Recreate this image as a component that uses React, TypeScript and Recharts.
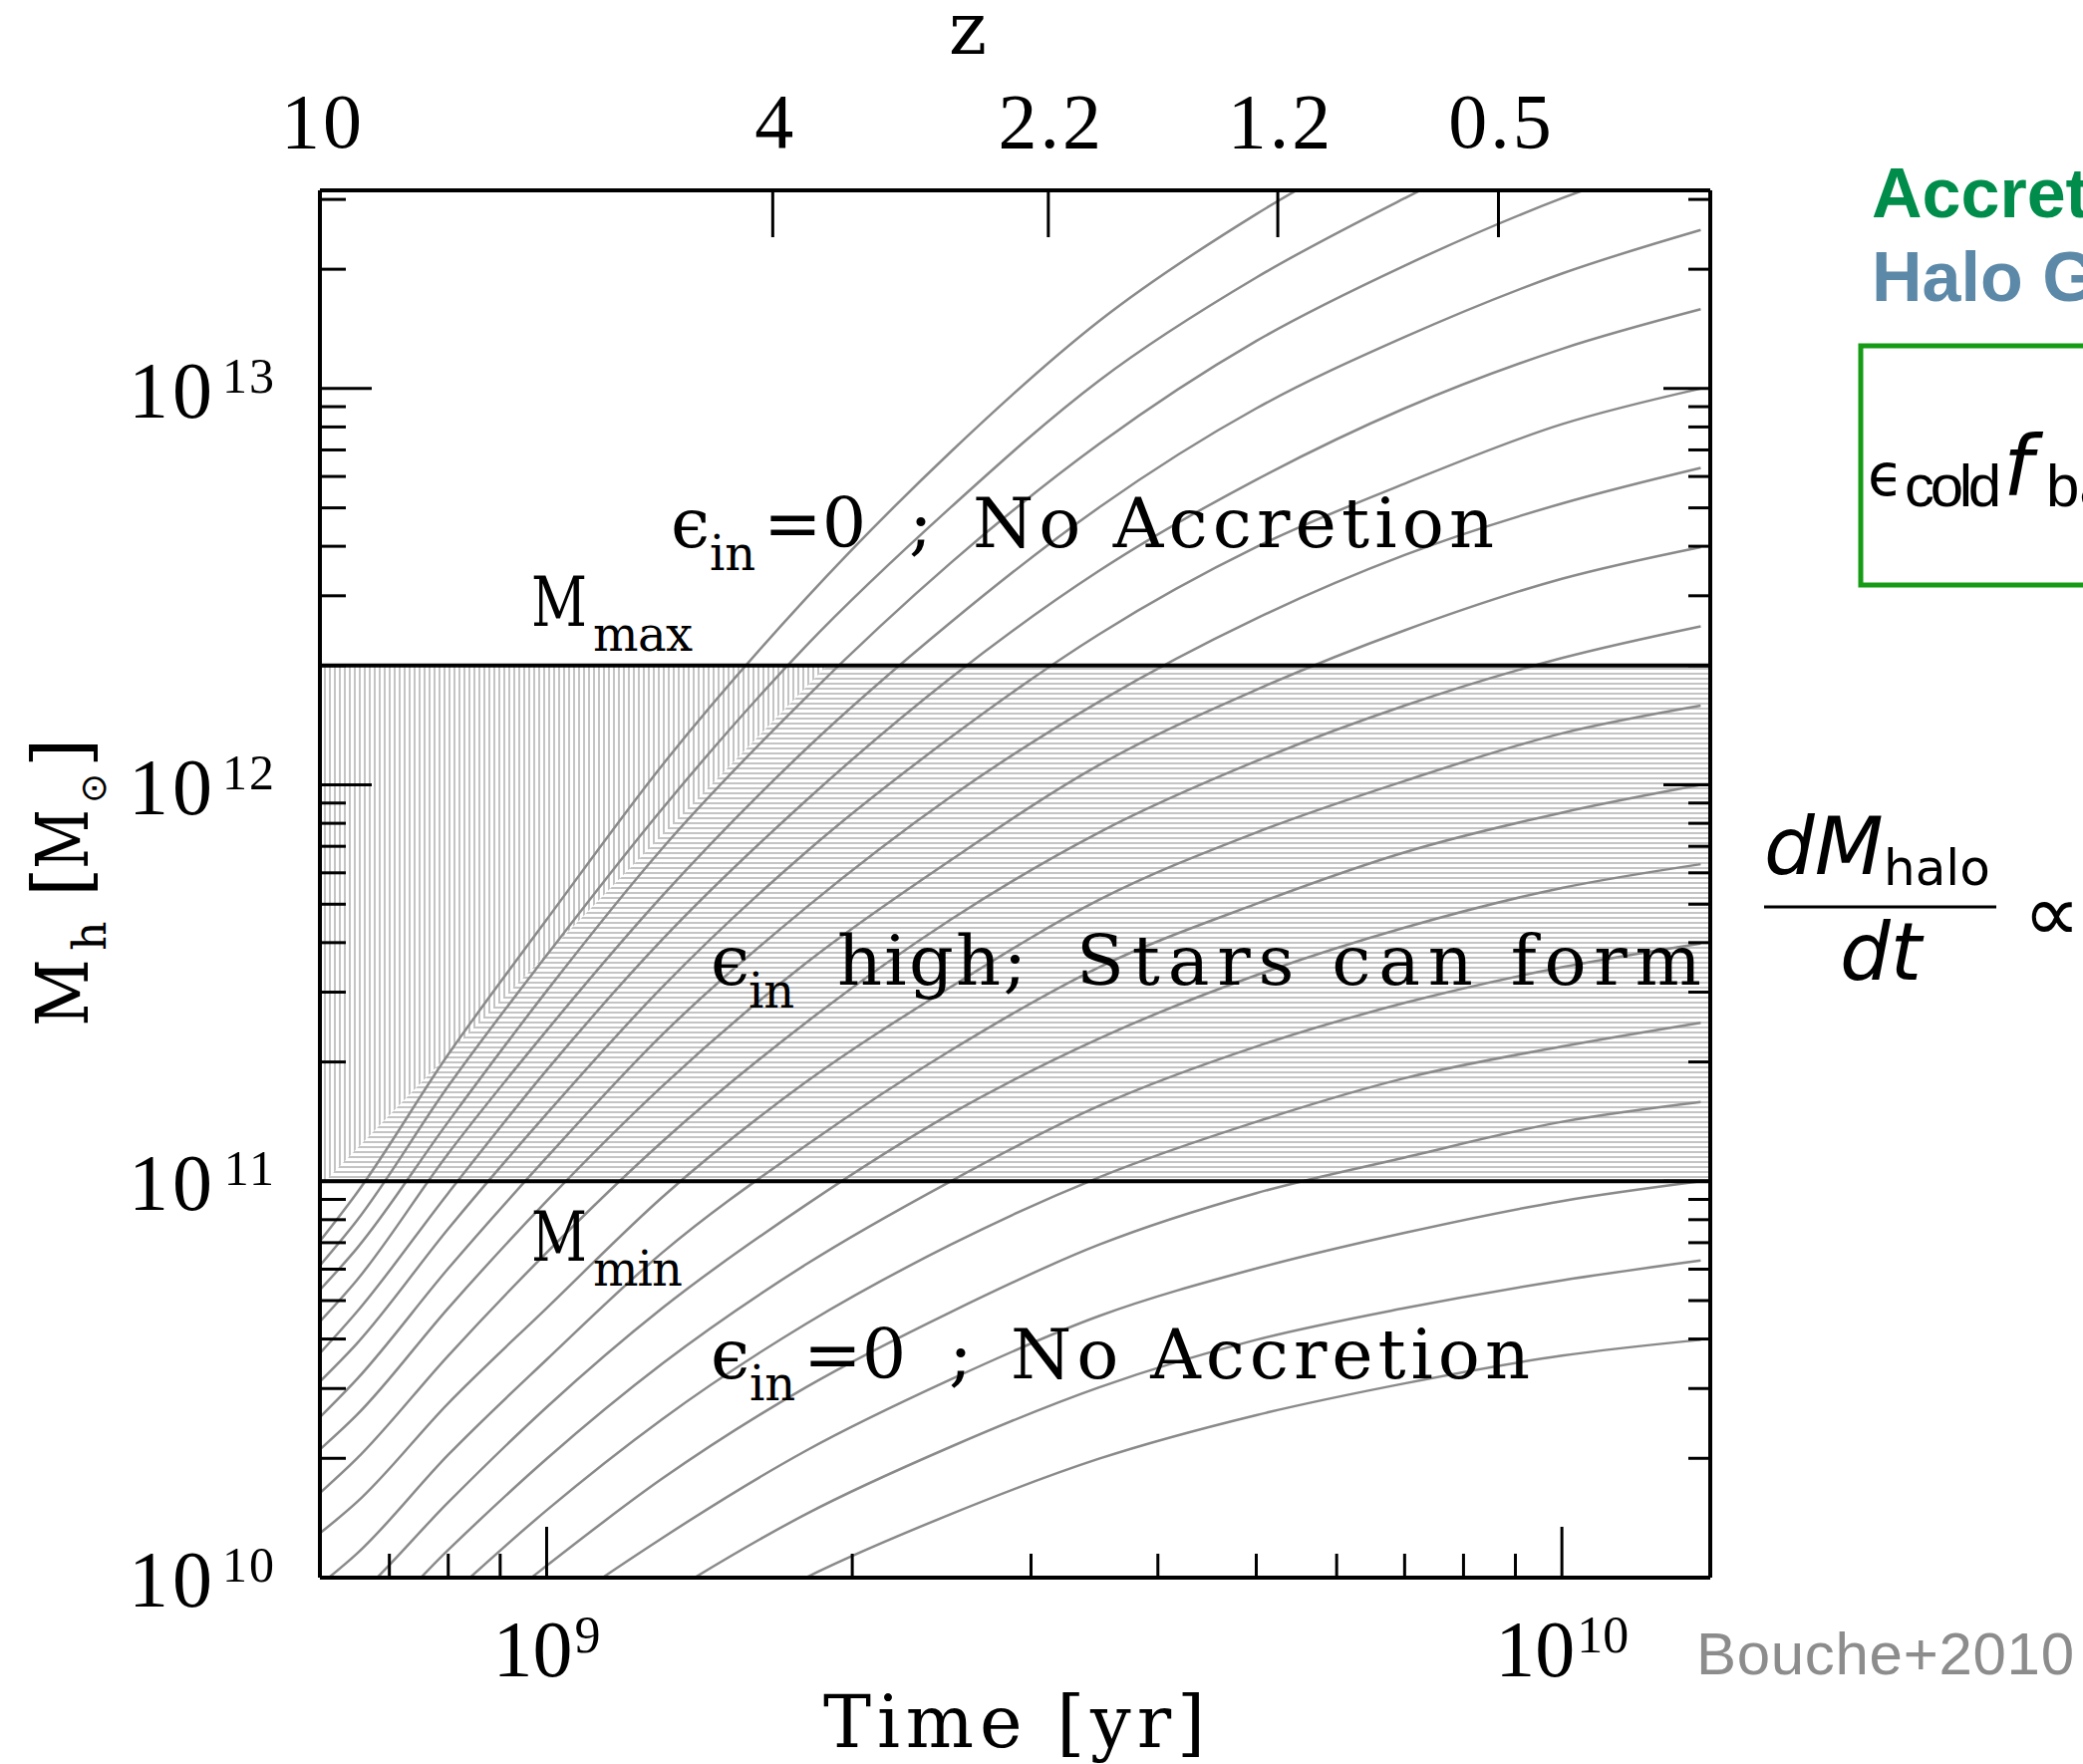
import React from 'react';
import {
  ComposedChart,
  Line,
  Area,
  XAxis,
  YAxis,
  ReferenceArea,
  ReferenceLine,
} from 'recharts';

const W = 2090;
const H = 1770;

// time axis [yr]
const T_MIN = 5.98e8;
const T_MAX = 1.4e10;
const T_MAJOR = [1e9, 1e10];
const T_MAJOR_EXP = ['9', '10'];
const T_MINOR = [7e8, 8e8, 9e8, 2e9, 3e9, 4e9, 5e9, 6e9, 7e9, 8e9, 9e9];

// redshift scale on top, placed at the matching cosmic time
const Z_LABELS = ['10', '4', '2.2', '1.2', '0.5'];
const Z_TIMES = [5.98e8, 1.67e9, 3.12e9, 5.25e9, 8.66e9];

// halo mass axis [Msun]
const M_LO = 1e10;
const M_HI = 3.1623e13;
const M_MAJOR = [1e10, 1e11, 1e12, 1e13];
const M_MAJOR_EXP = ['10', '11', '12', '13'];
const M_MINOR = [
  2e10, 3e10, 4e10, 5e10, 6e10, 7e10, 8e10, 9e10,
  2e11, 3e11, 4e11, 5e11, 6e11, 7e11, 8e11, 9e11,
  2e12, 3e12, 4e12, 5e12, 6e12, 7e12, 8e12, 9e12,
  2e13, 3e13,
];

// accretion window
const M_MIN = 1e11;
const M_MAX = 2e12;
// where the shading turns from vertical to horizontal hatching
const HATCH_TURN_LOW = 6.05e8;
const HATCH_TURN_HIGH = 1.89e9;

// halo growth tracks: log10 M_h at these times [Gyr]
const TRACK_TIME_GYR = [0.59, 0.65, 0.8, 1.0, 1.3, 1.8, 2.5, 3.5, 5, 7, 10, 13.7];
const LOGM_140 = [10.83, 10.97, 11.32, 11.66, 12.05, 12.47, 12.84, 13.17, 13.44, 13.65, 13.85, 14.0];
const LOGM_138 = [10.77, 10.9, 11.24, 11.57, 11.94, 12.35, 12.7, 13.02, 13.28, 13.48, 13.67, 13.8];
const LOGM_136 = [10.71, 10.83, 11.15, 11.48, 11.84, 12.22, 12.56, 12.86, 13.12, 13.31, 13.48, 13.6];
const LOGM_134 = [10.63, 10.75, 11.07, 11.38, 11.72, 12.09, 12.41, 12.7, 12.95, 13.13, 13.29, 13.4];
const LOGM_132 = [10.55, 10.67, 10.97, 11.28, 11.61, 11.96, 12.27, 12.54, 12.77, 12.95, 13.1, 13.2];
const LOGM_130 = [10.48, 10.59, 10.88, 11.17, 11.49, 11.83, 12.12, 12.38, 12.6, 12.76, 12.91, 13.0];
const LOGM_128 = [10.39, 10.5, 10.78, 11.06, 11.37, 11.69, 11.97, 12.21, 12.42, 12.58, 12.71, 12.8];
const LOGM_126 = [10.31, 10.41, 10.68, 10.95, 11.24, 11.55, 11.81, 12.05, 12.24, 12.39, 12.52, 12.6];
const LOGM_124 = [10.2, 10.3, 10.56, 10.82, 11.1, 11.4, 11.66, 11.88, 12.06, 12.2, 12.32, 12.4];
const LOGM_122 = [10.1, 10.19, 10.44, 10.68, 10.96, 11.25, 11.49, 11.71, 11.88, 12.01, 12.13, 12.2];
const LOGM_120 = [9.97, 10.06, 10.31, 10.55, 10.82, 11.09, 11.33, 11.54, 11.7, 11.83, 11.93, 12.0];
const LOGM_118 = [9.86, 9.95, 10.19, 10.43, 10.68, 10.94, 11.17, 11.36, 11.52, 11.64, 11.74, 11.8];
const LOGM_116 = [9.76, 9.84, 10.07, 10.3, 10.54, 10.79, 11.0, 11.19, 11.34, 11.45, 11.54, 11.6];
const LOGM_114 = [9.65, 9.73, 9.95, 10.17, 10.4, 10.64, 10.84, 11.01, 11.15, 11.26, 11.34, 11.4];
const LOGM_112 = [9.54, 9.62, 9.83, 10.03, 10.25, 10.48, 10.67, 10.84, 10.97, 11.06, 11.15, 11.2];
const LOGM_110 = [9.43, 9.5, 9.7, 9.9, 10.1, 10.32, 10.5, 10.66, 10.78, 10.87, 10.95, 11.0];
const LOGM_108 = [9.31, 9.38, 9.57, 9.76, 9.95, 10.16, 10.33, 10.48, 10.6, 10.68, 10.75, 10.8];
const LOGM_106 = [9.18, 9.25, 9.44, 9.61, 9.8, 10.0, 10.16, 10.3, 10.41, 10.49, 10.56, 10.6];

const TRACKS = [
  LOGM_140, LOGM_138, LOGM_136, LOGM_134, LOGM_132, LOGM_130, LOGM_128, LOGM_126, LOGM_124,
  LOGM_122, LOGM_120, LOGM_118, LOGM_116, LOGM_114, LOGM_112, LOGM_110, LOGM_108, LOGM_106,
];

const trackData = TRACKS.map((logm) =>
  logm.map((lm, i) => ({ t: TRACK_TIME_GYR[i] * 1e9, m: Math.pow(10, lm) }))
);

// left part of the window that is hatched vertically
const vHatch = [
  { t: T_MIN, band: [M_MIN, M_MAX] },
  { t: HATCH_TURN_LOW, band: [M_MIN, M_MAX] },
  { t: HATCH_TURN_HIGH, band: [M_MAX, M_MAX] },
];

const TICK_W = 3;
const serifNum = 'Liberation Serif';

const BottomTick = (props: any) => {
  const { x, y, payload } = props;
  const i = T_MAJOR.indexOf(payload.value);
  const major = i >= 0;
  const supW = major ? T_MAJOR_EXP[i].length * 26 : 0;
  const x0 = x - (82 + supW) / 2;
  return (
    <g>
      <line x1={x} x2={x} y1={y} y2={y - (major ? 51 : 24)} stroke="#000" strokeWidth={TICK_W} />
      {major && (
        <g fontFamily={serifNum} fill="#000">
          <text x={x0} y={y + 99} fontSize={80}>10</text>
          <text x={x0 + 82} y={y + 75} fontSize={52}>{T_MAJOR_EXP[i]}</text>
        </g>
      )}
    </g>
  );
};

const TopTick = (props: any) => {
  const { x, y, payload } = props;
  const i = Z_TIMES.indexOf(payload.value);
  return (
    <g>
      <line x1={x} x2={x} y1={y} y2={y + 47} stroke="#000" strokeWidth={TICK_W} />
      <text x={x + 3} y={y - 43} fontSize={78} fontFamily={serifNum} textAnchor="middle" letterSpacing={3}>
        {Z_LABELS[i]}
      </text>
    </g>
  );
};

const LeftTick = (props: any) => {
  const { x, y, payload } = props;
  const i = M_MAJOR.indexOf(payload.value);
  const major = i >= 0;
  return (
    <g>
      <line x1={x} x2={x + (major ? 52 : 26)} y1={y} y2={y} stroke="#000" strokeWidth={TICK_W} />
      {major && (
        <g fontFamily={serifNum} fill="#000">
          <text x={x - 104} y={y + 29} fontSize={80} textAnchor="end" letterSpacing={4}>10</text>
          <text x={x - 44} y={y + 4} fontSize={50} textAnchor="end" letterSpacing={2}>
            {M_MAJOR_EXP[i]}
          </text>
        </g>
      )}
    </g>
  );
};

const RightTick = (props: any) => {
  const { x, y, payload } = props;
  const major = M_MAJOR.includes(payload.value);
  return <line x1={x} x2={x - (major ? 47 : 22)} y1={y} y2={y} stroke="#000" strokeWidth={TICK_W} />;
};

const frame = { stroke: '#000', strokeWidth: 4 };

function Annotations() {
  const serif = 'DejaVu Serif';
  return (
    <svg
      width={W}
      height={H}
      style={{ position: 'absolute', left: 0, top: 0, pointerEvents: 'none' }}
    >
      <g fontFamily={serif} fill="#000">
        {/* upper region */}
        <text x={673} y={549} fontSize={70}>ϵ</text>
        <text x={712} y={572} fontSize={48}>in</text>
        <text x={766} y={549} fontSize={70}>=0</text>
        <text x={912} y={549} fontSize={70}>;</text>
        <text x={976} y={549} fontSize={70} textLength={523}>No Accretion</text>

        <text x={533} y={628} fontSize={70} textLength={56} lengthAdjust="spacingAndGlyphs">M</text>
        <text x={595} y={653} fontSize={48} textLength={100}>max</text>

        {/* accretion window */}
        <text x={713} y={988} fontSize={70}>ϵ</text>
        <text x={751} y={1011} fontSize={48}>in</text>
        <text x={840} y={988} fontSize={70} textLength={190}>high;</text>
        <text x={1080} y={988} fontSize={70} textLength={627}>Stars can form</text>

        <text x={533} y={1265} fontSize={70} textLength={56} lengthAdjust="spacingAndGlyphs">M</text>
        <text x={595} y={1290} fontSize={48} textLength={90}>min</text>

        {/* lower region */}
        <text x={713} y={1383} fontSize={70}>ϵ</text>
        <text x={752} y={1405} fontSize={48}>in</text>
        <text x={806} y={1383} fontSize={70}>=0</text>
        <text x={952} y={1383} fontSize={70}>;</text>
        <text x={1014} y={1383} fontSize={70} textLength={521}>No Accretion</text>

        {/* axis titles */}
        <text x={826} y={1753} fontSize={72} textLength={383}>Time [yr]</text>
        <text x={971} y={54} fontSize={72} textAnchor="middle">z</text>
        <g transform="translate(88,1030) rotate(-90)">
          <text x={0} y={0} fontSize={72} textLength={68} lengthAdjust="spacingAndGlyphs">M</text>
          <text x={76} y={18} fontSize={46}>h</text>
          <text x={130} y={0} fontSize={76}>[</text>
          <text x={158} y={0} fontSize={72} textLength={60} lengthAdjust="spacingAndGlyphs">M</text>
          <text x={224} y={18} fontSize={36} fontFamily="DejaVu Sans">⊙</text>
          <text x={260} y={0} fontSize={76}>]</text>
        </g>
      </g>

      {/* slide notes to the right of the plot */}
      <g fontFamily="Liberation Sans" fontWeight="bold" fontSize={70}>
        <text x={1878} y={218} fill="#008c4a">Accretion</text>
        <text x={1878} y={302} fill="#5d89a8">Halo Growth</text>
      </g>
      <rect x={1867} y={347} width={300} height={240} fill="none" stroke="#169b16" strokeWidth={5} />
      <g fill="#000">
        <text x={1874} y={497} fontSize={58} fontFamily="DejaVu Sans">ϵ</text>
        <text x={1911} y={508} fontSize={60} fontFamily="Liberation Sans" textLength={97}>cold</text>
        <text x={2010} y={497} fontSize={84} fontFamily="DejaVu Sans" fontStyle="italic">f</text>
        <text x={2053} y={508} fontSize={60} fontFamily="Liberation Sans">baryon</text>
      </g>
      <g fill="#000" fontFamily="DejaVu Sans">
        <text x={1770} y={877} fontSize={80} fontStyle="italic">dM</text>
        <text x={1890} y={888} fontSize={50}>halo</text>
        <line x1={1770} x2={2003} y1={910} y2={910} stroke="#000" strokeWidth={3} />
        <text x={1846} y={983} fontSize={80} fontStyle="italic">dt</text>
        <text x={2030} y={944} fontSize={80}>∝</text>
      </g>
      <text x={1702} y={1680} fontSize={60} fontFamily="Liberation Sans" fill="#8c8c8c" textLength={379}>
        Bouche+2010
      </text>
    </svg>
  );
}

export default function App() {
  return (
    <div
      style={{
        position: 'absolute',
        left: 0,
        top: 0,
        width: W,
        height: H,
        overflow: 'hidden',
        background: '#fff',
      }}
    >
      <svg width={0} height={0} style={{ position: 'absolute' }}>
        <defs>
          <pattern id="hatchH" width={10} height={5} patternUnits="userSpaceOnUse">
            <rect width={10} height={5} fill="#fff" />
            <rect width={10} height={2} fill="#c4c4c4" />
          </pattern>
          <pattern id="hatchV" width={5} height={10} patternUnits="userSpaceOnUse">
            <rect width={5} height={10} fill="#fff" />
            <rect width={2} height={10} fill="#c4c4c4" />
          </pattern>
        </defs>
      </svg>
      <ComposedChart width={W} height={H} margin={{ top: 0, right: 0, bottom: 0, left: 0 }}>
        <XAxis
          xAxisId="t"
          dataKey="t"
          type="number"
          scale="log"
          domain={[T_MIN, T_MAX]}
          allowDataOverflow
          ticks={[...T_MINOR, ...T_MAJOR]}
          interval={0}
          tickSize={0}
          tickMargin={0}
          tickLine={false}
          tick={(p: any) => <BottomTick {...p} />}
          axisLine={frame}
          height={187}
        />
        <XAxis
          xAxisId="z"
          dataKey="t"
          orientation="top"
          type="number"
          scale="log"
          domain={[T_MIN, T_MAX]}
          allowDataOverflow
          ticks={Z_TIMES}
          interval={0}
          tickSize={0}
          tickMargin={0}
          tickLine={false}
          tick={(p: any) => <TopTick {...p} />}
          axisLine={frame}
          height={191}
        />
        <YAxis
          yAxisId="m"
          type="number"
          scale="log"
          domain={[M_LO, M_HI]}
          allowDataOverflow
          ticks={[...M_MINOR, ...M_MAJOR]}
          interval={0}
          tickSize={0}
          tickMargin={0}
          tickLine={false}
          tick={(p: any) => <LeftTick {...p} />}
          axisLine={frame}
          width={321}
        />
        <YAxis
          yAxisId="r"
          orientation="right"
          type="number"
          scale="log"
          domain={[M_LO, M_HI]}
          allowDataOverflow
          ticks={[...M_MINOR, ...M_MAJOR]}
          interval={0}
          tickSize={0}
          tickMargin={0}
          tickLine={false}
          tick={(p: any) => <RightTick {...p} />}
          axisLine={frame}
          width={374}
        />

        <ReferenceArea
          xAxisId="t"
          yAxisId="m"
          x1={T_MIN}
          x2={T_MAX}
          y1={M_MIN}
          y2={M_MAX}
          fill="url(#hatchH)"
          fillOpacity={1}
          stroke="none"
        />
        <Area
          xAxisId="t"
          yAxisId="m"
          data={vHatch}
          dataKey="band"
          type="linear"
          stroke="none"
          fill="url(#hatchV)"
          fillOpacity={1}
          dot={false}
          activeDot={false}
          isAnimationActive={false}
        />

        {trackData.map((d, k) => (
          <Line
            key={k}
            xAxisId="t"
            yAxisId="m"
            data={d}
            dataKey="m"
            type="monotone"
            stroke="#8a8a8a"
            strokeWidth={2.5}
            dot={false}
            activeDot={false}
            isAnimationActive={false}
          />
        ))}

        <ReferenceLine xAxisId="t" yAxisId="m" y={M_MAX} stroke="#000" strokeWidth={4} />
        <ReferenceLine xAxisId="t" yAxisId="m" y={M_MIN} stroke="#000" strokeWidth={4} />
      </ComposedChart>
      <Annotations />
    </div>
  );
}
